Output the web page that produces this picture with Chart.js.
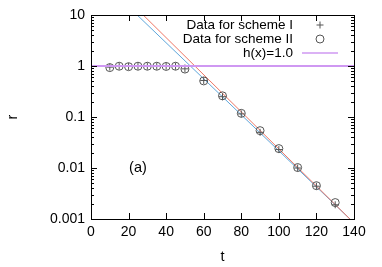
<!DOCTYPE html>
<html lang="en">
<head>
  <meta charset="UTF-8">
  <title>r vs t</title>
  <style>
    * { margin: 0; padding: 0; }
    body { background: #fff; width: 382px; height: 267px; overflow: hidden; }
    .wrap { width: 382px; height: 267px; }
  </style>
</head>
<body>
  <div class="wrap"><canvas id="chart" width="382" height="267"></canvas></div>

  <script src="https://cdn.jsdelivr.net/npm/chart.js"></script>
  <script>
    // values
    const times = [10, 15, 20, 25, 30, 35, 40, 45, 50, 60, 70, 80, 90, 100, 110, 120, 130];
    const schemeI  = [0.95, 0.99, 0.98, 0.99, 0.99, 0.99, 0.99, 0.99, 0.88, 0.52, 0.25, 0.115, 0.05, 0.023, 0.0100, 0.0044, 0.0019];
    const schemeII = [0.93, 0.99, 0.97, 0.99, 0.99, 0.99, 0.98, 0.99, 0.87, 0.51, 0.26, 0.118, 0.054, 0.024, 0.0102, 0.0045, 0.0021];
    const fitT = [20, 140];
    const fitRed  = [19.2, 0.00083];
    const fitBlue = [14.5, 0.00084];
    const hT = [0, 140];
    const hR = [1, 1];
    const xTicks = [0, 20, 40, 60, 80, 100, 120, 140];
    const yTicks = [0.001, 0.01, 0.1, 1, 10];
    const minorMantissa = [2, 3, 4, 5, 6, 7, 8, 9];
    const legendItems = ['Data for scheme I', 'Data for scheme II', 'h(x)=1.0'];
    const panelLabel = '(a)';

    const FONT = '"Liberation Sans", Arial, sans-serif';
    const pts = (xs, ys) => xs.map((x, i) => ({ x: x, y: ys[i] }));

    // gnuplot-like frame: box, inward ticks on all sides, legend, panel label
    const frame = {
      id: 'frame',
      afterDatasetsDraw(chart) {
        const { ctx, chartArea: a, scales: { x, y } } = chart;
        ctx.save();
        ctx.strokeStyle = '#000';
        ctx.lineWidth = 1;
        ctx.beginPath();
        xTicks.forEach(v => {
          const px = Math.round(x.getPixelForValue(v)) + 0.5;
          ctx.moveTo(px, a.bottom); ctx.lineTo(px, a.bottom - 6);
          ctx.moveTo(px, a.top); ctx.lineTo(px, a.top + 6);
        });
        yTicks.forEach((v, i) => {
          const py = Math.round(y.getPixelForValue(v)) + 0.5;
          ctx.moveTo(a.left, py); ctx.lineTo(a.left + 6, py);
          ctx.moveTo(a.right, py); ctx.lineTo(a.right - 6, py);
          if (i < yTicks.length - 1) {
            minorMantissa.forEach(m => {
              const q = Math.round(y.getPixelForValue(v * m)) + 0.5;
              ctx.moveTo(a.left, q); ctx.lineTo(a.left + 3, q);
              ctx.moveTo(a.right, q); ctx.lineTo(a.right - 3, q);
            });
          }
        });
        ctx.stroke();
        ctx.strokeRect(Math.round(a.left) + 0.5, Math.round(a.top) + 0.5,
                       Math.round(a.right - a.left), Math.round(a.bottom - a.top));

        // legend
        ctx.font = '13.5px ' + FONT;
        ctx.fillStyle = '#000';
        ctx.textAlign = 'right';
        ctx.textBaseline = 'middle';
        const lx = 293, sx = 320, rows = [25, 39, 53];
        legendItems.forEach((t, i) => ctx.fillText(t, lx, rows[i]));
        ctx.strokeStyle = '#555';
        ctx.beginPath();
        ctx.moveTo(sx - 3.5, rows[0]); ctx.lineTo(sx + 3.5, rows[0]);
        ctx.moveTo(sx, rows[0] - 3.5); ctx.lineTo(sx, rows[0] + 3.5);
        ctx.stroke();
        ctx.beginPath();
        ctx.arc(sx, rows[1], 4, 0, Math.PI * 2);
        ctx.stroke();
        ctx.strokeStyle = '#cf98f2';
        ctx.lineWidth = 1.5;
        ctx.beginPath();
        ctx.moveTo(302, rows[2]); ctx.lineTo(338, rows[2]);
        ctx.stroke();

        // panel label
        ctx.textAlign = 'center';
        ctx.fillStyle = '#000';
        ctx.font = '14.5px ' + FONT;
        ctx.fillText(panelLabel, x.getPixelForValue(25), y.getPixelForValue(0.01));
        ctx.restore();
      }
    };

    new Chart(document.getElementById('chart').getContext('2d'), {
      type: 'scatter',
      data: {
        datasets: [
          {
            data: pts(hT, hR), showLine: true, pointRadius: 0,
            borderColor: '#cf98f2', borderWidth: 1.8
          },
          {
            data: pts(times, schemeI), pointStyle: 'cross', pointRadius: 3.5,
            borderColor: '#555', borderWidth: 1, backgroundColor: 'transparent'
          },
          {
            data: pts(times, schemeII), pointStyle: 'circle', pointRadius: 4,
            borderColor: '#555', borderWidth: 1, backgroundColor: 'transparent'
          },
          {
            data: pts(fitT, fitRed), showLine: true, pointRadius: 0,
            borderColor: '#ee7766', borderWidth: 1
          },
          {
            data: pts(fitT, fitBlue), showLine: true, pointRadius: 0,
            borderColor: '#5fa6da', borderWidth: 1
          }
        ]
      },
      options: {
        responsive: false,
        animation: false,
        events: [],
        layout: { padding: { top: 15, right: 28, left: 0, bottom: 0 } },
        plugins: { legend: { display: false }, tooltip: { enabled: false } },
        scales: {
          x: {
            type: 'linear', min: 0, max: 140,
            afterBuildTicks: s => { s.ticks = xTicks.map(v => ({ value: v })); },
            afterFit: s => { s.height = 48; },
            grid: { display: false, drawTicks: false },
            border: { display: false },
            ticks: { color: '#000', padding: 5, font: { family: FONT, size: 14 }, autoSkip: false, maxRotation: 0 },
            title: { display: true, text: 't', color: '#000', font: { family: FONT, size: 14.5 }, padding: { top: 0, bottom: 1 } }
          },
          y: {
            type: 'logarithmic', min: 0.001, max: 10,
            afterBuildTicks: s => { s.ticks = yTicks.map(v => ({ value: v })); },
            afterFit: s => { s.width = 91; },
            grid: { display: false, drawTicks: false },
            border: { display: false },
            ticks: { color: '#000', padding: 6, font: { family: FONT, size: 14 }, autoSkip: false, callback: v => String(v) },
            title: { display: true, text: 'r', color: '#000', font: { family: FONT, size: 14.5 }, padding: { top: 4, bottom: 0 } }
          }
        }
      },
      plugins: [frame]
    });
  </script>
</body>
</html>
